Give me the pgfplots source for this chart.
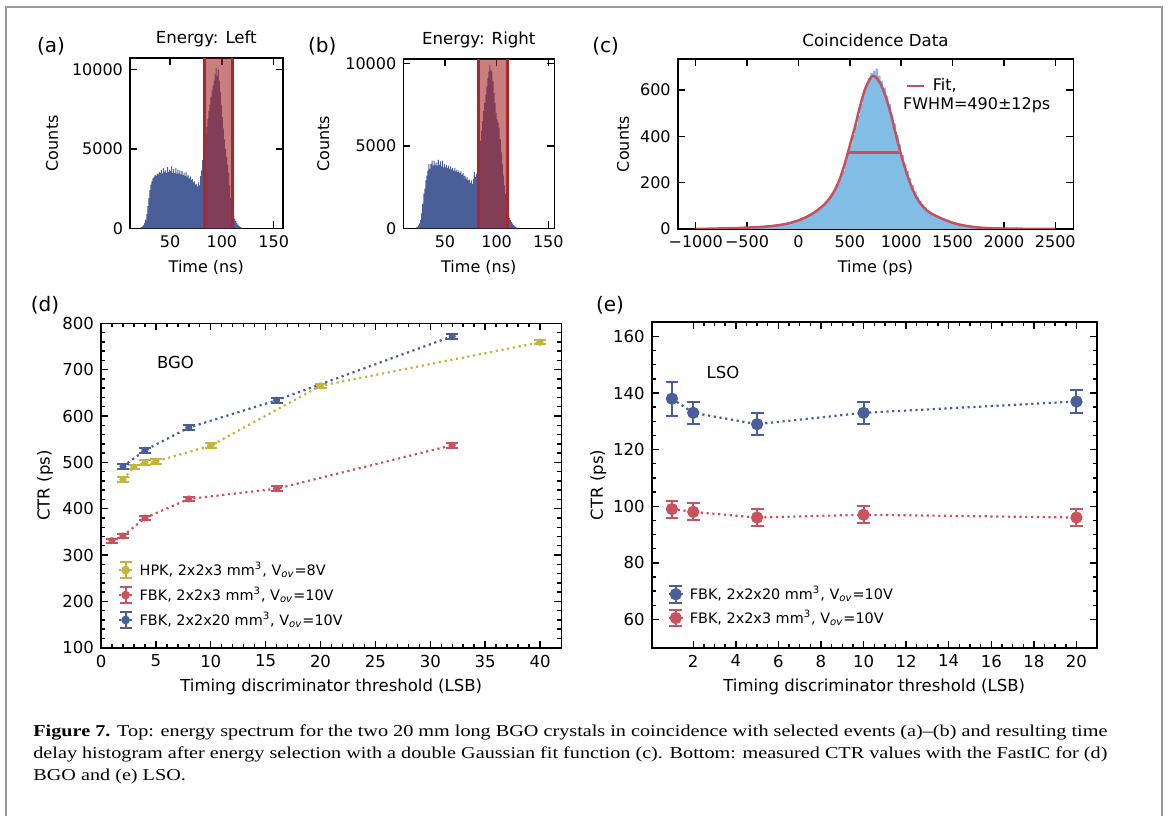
\documentclass[border=0pt]{standalone}
\usepackage{fontspec}
\setmainfont{DejaVu Sans}
\newfontfamily\capfont{Liberation Serif}
\usepackage{graphicx}
\usepackage{pgfplots}
\pgfplotsset{compat=1.18}
\definecolor{histblue}{HTML}{4A5F97}
\definecolor{bandred}{HTML}{A8282C}
\definecolor{lightb}{HTML}{82BDE6}
\definecolor{fitred}{HTML}{C8505E}
\definecolor{cblue}{HTML}{4A5F9A}
\definecolor{cred}{HTML}{C9525F}
\definecolor{colive}{HTML}{C2B43C}
\definecolor{framegray}{HTML}{9A9A9A}
\newsavebox\capA
\newsavebox\capB
\pgfplotsset{
  panel/.style={
    scale only axis,
    axis line style={line width=0.8pt},
    every tick/.style={black, line width=0.7pt},
    major tick length=3.5pt,
    minor tick length=2pt,
    tick align=inside,
    scaled ticks=false,
    /pgf/number format/assume math mode=true,
    /pgf/number format/1000 sep={},
  },
  toppanel/.style={panel,
    tick label style={font=\fontsize{8}{9.5}\selectfont},
    label style={font=\fontsize{8}{9.5}\selectfont},
    title style={font=\fontsize{8.3}{10}\selectfont, at={(0.5,1)}, anchor=center, yshift=3.5pt},
    xlabel style={at={(axis description cs:0.5,0)}, anchor=center, yshift=-19.75pt},
  },
  botpanel/.style={panel,
    tick label style={font=\fontsize{8.25}{9.5}\selectfont},
    label style={font=\fontsize{8.25}{9.5}\selectfont},
    xlabel style={at={(axis description cs:0.5,0)}, anchor=center, yshift=-19.5pt},
  },
  dotline/.style={dash pattern=on 1.1pt off 1.8pt, line width=1.1pt},
  errd/.style={dotline, mark=*, mark size=1.2pt, mark options={solid},
    error bars/.cd, y dir=both, y explicit, error bar style={solid, line width=1pt},
    error mark options={solid, rotate=90, line width=1pt, mark size=3pt}, /pgfplots/.cd},
  erre/.style={dotline, mark=*, mark size=2.5pt, mark options={solid},
    error bars/.cd, y dir=both, y explicit, error bar style={solid, line width=1pt},
    error mark options={solid, rotate=90, line width=1pt, mark size=3.2pt}, /pgfplots/.cd},
  legd/.style={legend image code/.code={
    \draw[dash pattern=on 1.1pt off 1.8pt, line width=1.1pt] (0pt,0pt) -- (7pt,0pt);
    \draw[solid, line width=1pt] (3.5pt,-4pt) -- (3.5pt,4pt) (0.5pt,-4pt) -- (6.5pt,-4pt) (0.5pt,4pt) -- (6.5pt,4pt);
    \fill[solid] (3.5pt,0pt) circle (1.6pt);}},
  lege/.style={legend image code/.code={
    \draw[dash pattern=on 1.1pt off 1.8pt, line width=1.1pt] (0pt,0pt) -- (7pt,0pt);
    \draw[solid, line width=1pt] (3.5pt,-4.2pt) -- (3.5pt,4.2pt) (0.3pt,-4.2pt) -- (6.7pt,-4.2pt) (0.3pt,4.2pt) -- (6.7pt,4.2pt);
    \fill[solid] (3.5pt,0pt) circle (2.5pt);}},
}
\begin{document}%
\sbox\capA{\capfont\fontsize{8.3}{11}\selectfont\textbf{Figure 7.} Top: energy spectrum for the two 20 mm long BGO crystals in coincidence with selected events (a)–(b) and resulting time}%
\sbox\capB{\capfont\fontsize{8.3}{11}\selectfont delay histogram after energy selection with a double Gaussian fit function (c). Bottom: measured CTR values with the FastIC for (d)}%
\pgfmathsetmacro\xsA{537/(\wd\capA/1pt)}%
\pgfmathsetmacro\xsB{537/(\wd\capB/1pt)}%
\pgfmathsetmacro\xsC{(\xsA+\xsB)/2}%
\begin{tikzpicture}
\path[use as bounding box] (0,0) rectangle (584pt,408pt);
\draw[framegray, line width=1pt] (3pt,0) -- (3pt,404.6pt) -- (581.2pt,404.6pt) -- (581.2pt,0);

% ---------- (a)
\begin{axis}[toppanel, at={(65pt,293.85pt)}, anchor=south west,
  width=76.35pt, height=85pt,
  xmin=11.3, xmax=158.7, ymin=0, ymax=10715,
  xtick={50,100,150}, ytick={0,5000,10000},
  title={Energy: Left}, xlabel={Time (ns)}, ylabel={Counts},
  ylabel style={at={(axis description cs:-0.511,0.5)}, anchor=center}]
\addplot[const plot mark left, fill=histblue, draw=none] table {
20 0
21 40
22 80
23 120
24 200
25 320
26 550
27 900
28 1400
29 1900
30 2400
31 2750
32 2950
33 3150
34 3250
35 3350
36 3300
37 3450
38 3400
39 3550
40 3500
41 3700
42 3450
43 3800
44 3550
45 3650
46 3500
47 3850
48 3550
49 3700
50 3600
51 3900
52 3500
53 3750
54 3500
55 3800
56 3450
57 3700
58 3450
59 3650
60 3400
61 3600
62 3350
63 3500
64 3300
65 3550
66 3250
67 3350
68 3150
69 3250
70 3050
71 3100
72 2900
73 2950
74 2750
75 2800
76 2650
77 2900
78 2700
79 3300
80 3650
81 4300
82 4800
83 5300
84 5900
85 6400
86 6900
87 7400
88 7800
89 8300
90 8700
91 9000
92 9300
93 9700
94 10100
95 9600
96 10000
97 9300
98 8600
99 7800
100 7000
101 6300
102 5600
103 5000
104 4500
105 4000
106 3500
107 2700
108 1900
109 1400
110 1050
111 800
112 600
113 450
114 330
115 230
116 160
117 100
118 60
119 30
120 10
121 0
} \closedcycle;
\addplot[fill=bandred, fill opacity=0.6, draw=none] coordinates {(83,0) (83,10715) (110,10715) (110,0)} \closedcycle;
\addplot[bandred, line width=1.5pt] coordinates {(83,0) (83,10715)};
\addplot[bandred, line width=1.5pt] coordinates {(110,0) (110,10715)};
\end{axis}

% ---------- (b)
\begin{axis}[toppanel, at={(201.65pt,293.85pt)}, anchor=south west,
  width=75.5pt, height=84.5pt,
  xmin=9.7, xmax=155.8, ymin=0, ymax=10243,
  xtick={50,100,150}, ytick={0,5000,10000},
  title={Energy: Right}, xlabel={Time (ns)}, ylabel={Counts},
  ylabel style={at={(axis description cs:-0.530,0.5)}, anchor=center}]
\addplot[const plot mark left, fill=histblue, draw=none] table {
20 0
21 30
22 60
23 100
24 180
25 300
26 500
27 900
28 1500
29 2100
30 2400
31 2900
32 3200
33 3500
34 3900
35 3600
36 3900
37 4100
38 3800
39 4100
40 3850
41 4000
42 3800
43 4150
44 3850
45 4050
46 3750
47 4100
48 3700
49 3900
50 3700
51 3850
52 3650
53 3800
54 3600
55 3750
56 3550
57 3650
58 3500
59 3650
60 3450
61 3550
62 3400
63 3500
64 3350
65 3450
66 3250
67 3350
68 3150
69 3200
70 3000
71 3100
72 2900
73 2950
74 2750
75 2900
76 2700
77 3000
78 3400
79 3100
80 3300
81 3700
82 4200
83 4700
84 5300
85 5900
86 6500
87 7100
88 7600
89 8100
90 8600
91 9100
92 9500
93 9900
94 9600
95 9500
96 8900
97 8200
98 7600
99 7000
100 6600
101 6400
102 6100
103 5400
104 4600
105 3900
106 3200
107 2600
108 2100
109 1600
110 1200
111 900
112 650
113 500
114 380
115 280
116 200
117 130
118 80
119 40
120 15
121 0
} \closedcycle;
\addplot[fill=bandred, fill opacity=0.6, draw=none] coordinates {(82.2,0) (82.2,10243) (110.6,10243) (110.6,0)} \closedcycle;
\addplot[bandred, line width=1.5pt] coordinates {(82.2,0) (82.2,10243)};
\addplot[bandred, line width=1.5pt] coordinates {(110.6,0) (110.6,10243)};
\end{axis}

% ---------- (c)
\begin{axis}[toppanel, at={(338.85pt,293.5pt)}, anchor=south west,
  width=197.8pt, height=84.85pt,
  xmin=-1175, xmax=2675, ymin=0, ymax=732,
  xtick={-1000,-500,0,500,1000,1500,2000,2500},
  xticklabels={−1000,−500,0,500,1000,1500,2000,2500},
  ytick={0,200,400,600},
  title={Coincidence Data}, xlabel={Time (ps)}, ylabel={Counts},
  ylabel style={at={(axis description cs:-0.138,0.5)}, anchor=center},
  legend style={draw=none, fill=none, at={(0.5746,0.844)}, anchor=west, inner sep=0pt,
    nodes={inner sep=0pt}, column sep=4pt, font=\fontsize{8}{9.5}\selectfont}]
\addplot[const plot mark left, fill=lightb, draw=none, forget plot] table {
-1000 1
-975 0
-950 2
-925 1
-900 1
-875 2
-850 1
-825 3
-800 2
-775 2
-750 3
-725 2
-700 4
-675 3
-650 5
-625 3
-600 6
-575 4
-550 7
-525 5
-500 9
-475 6
-450 8
-425 7
-400 10
-375 9
-350 11
-325 10
-300 13
-275 12
-250 15
-225 16
-200 18
-175 20
-150 22
-125 24
-100 27
-75 30
-50 33
-25 36
0 40
25 44
50 48
75 52
100 58
125 64
150 72
175 80
200 88
225 98
250 110
275 122
300 138
325 152
350 172
375 195
400 222
425 250
450 290
475 325
500 365
525 405
550 448
575 490
600 540
625 580
650 620
675 650
700 672
725 682
750 692
775 662
800 640
825 610
850 575
875 540
900 495
925 455
950 405
975 365
1000 320
1025 282
1050 250
1075 218
1100 190
1125 162
1150 140
1175 120
1200 105
1225 92
1250 80
1275 70
1300 62
1325 56
1350 52
1375 44
1400 40
1425 35
1450 31
1475 28
1500 24
1525 21
1550 18
1575 16
1600 14
1625 12
1650 10
1675 9
1700 8
1725 7
1750 6
1775 5
1800 5
1825 4
1850 3
1875 4
1900 3
1925 2
1950 3
1975 2
2000 2
2025 1
2050 2
2075 1
2100 1
2125 1
2150 2
2175 1
2200 1
2225 0
2250 1
2275 1
2300 0
2325 1
2350 0
2375 1
2400 0
2425 1
2450 0
2475 0
2500 0
} \closedcycle;
\addplot[fitred, line width=1.25pt, smooth,
  legend image code/.code={\draw[line width=1.25pt] (0pt,0pt) -- (8.5pt,0pt);}] coordinates {
(-1000,1)(-900,1)(-800,2)(-700,3)(-600,4)(-500,6)(-400,8)(-300,11)(-200,16)(-100,24)
(0,37)(50,46)(100,57)(150,70)(200,86)(250,105)(300,130)(350,165)(400,213)(450,280)
(500,360)(550,440)(600,530)(650,605)(700,650)(725,660)(750,657)(800,625)(850,570)
(900,495)(950,405)(1000,318)(1050,245)(1100,182)(1150,135)(1200,103)(1250,80)(1300,65)
(1350,54)(1400,44)(1450,35)(1500,27)(1550,21)(1600,16)(1700,9)(1800,5)(1900,3)(2000,2)
(2200,1)(2500,0.5)};
\addlegendentry{Fit,}
\addplot[fitred, line width=1.25pt, forget plot] coordinates {(485,330) (990,330)};
\node[anchor=west, font=\fontsize{8}{9.5}\selectfont, inner sep=0pt] at (rel axis cs:0.569,0.731) {FWHM=490±12ps};
\end{axis}

% ---------- (d)
\begin{axis}[botpanel, at={(50.5pt,84.15pt)}, anchor=south west,
  width=230.2pt, height=162.2pt,
  xmin=0, xmax=41.95, ymin=100, ymax=800,
  xtick={0,5,...,40}, minor x tick num=4,
  ytick={100,200,...,800}, minor y tick num=4,
  xlabel={Timing discriminator threshold (LSB)}, ylabel={CTR (ps)},
  ylabel style={at={(axis description cs:-0.1216,0.5)}, anchor=center},
  legend cell align=left,
  legend style={draw=none, fill=none, at={(0.035,0.275)}, anchor=north west, inner sep=0pt,
    nodes={inner sep=1.5pt}, column sep=1.5pt, row sep=1.2pt, font=\fontsize{7.2}{8}\selectfont}]
\addplot[colive, legd, errd]
  coordinates {(2,463) +- (0,5) (3,490) +- (0,5) (4,499) +- (0,5) (5,502) +- (0,5)
  (10,536) +- (0,5) (20,665) +- (0,5) (40,759) +- (0,4)};
\addlegendentry{HPK, 2x2x3 mm\textsuperscript{3}, V\textsubscript{\textit{ov}}=8V}
\addplot[cred, legd, errd]
  coordinates {(1,331) +- (0,4) (2,341) +- (0,5) (4,380) +- (0,5) (8,421) +- (0,4)
  (16,443) +- (0,5) (32,537) +- (0,5)};
\addlegendentry{FBK, 2x2x3 mm\textsuperscript{3}, V\textsubscript{\textit{ov}}=10V}
\addplot[cblue, legd, errd]
  coordinates {(2,491) +- (0,5) (4,526) +- (0,5) (8,575) +- (0,5) (16,634) +- (0,5)
  (32,772) +- (0,5)};
\addlegendentry{FBK, 2x2x20 mm\textsuperscript{3}, V\textsubscript{\textit{ov}}=10V}
\node[anchor=west, font=\fontsize{8.25}{9.5}\selectfont, inner sep=0pt] at (axis cs:5.07,715) {BGO};
\end{axis}

% ---------- (e)
\begin{axis}[botpanel, at={(325.85pt,84.15pt)}, anchor=south west,
  width=222.5pt, height=162.7pt,
  xmin=0.05, xmax=20.95, ymin=50, ymax=165,
  xtick={2,4,...,20}, minor x tick num=3,
  ytick={60,80,...,160}, minor y tick num=3,
  xlabel={Timing discriminator threshold (LSB)}, ylabel={CTR (ps)},
  ylabel style={at={(axis description cs:-0.120,0.5)}, anchor=center},
  legend cell align=left,
  legend style={draw=none, fill=none, at={(0.035,0.2)}, anchor=north west, inner sep=0pt,
    nodes={inner sep=1.5pt}, column sep=1.5pt, row sep=0.6pt, font=\fontsize{7.2}{8}\selectfont}]
\addplot[cblue, lege, erre]
  coordinates {(1,138) +- (0,6) (2,133) +- (0,4) (5,129) +- (0,4) (10,133) +- (0,4) (20,137) +- (0,4)};
\addlegendentry{FBK, 2x2x20 mm\textsuperscript{3}, V\textsubscript{\textit{ov}}=10V}
\addplot[cred, lege, erre]
  coordinates {(1,99) +- (0,3) (2,98) +- (0,3) (5,96) +- (0,3) (10,97) +- (0,3) (20,96) +- (0,3)};
\addlegendentry{FBK, 2x2x3 mm\textsuperscript{3}, V\textsubscript{\textit{ov}}=10V}
\node[anchor=west, font=\fontsize{8.25}{9.5}\selectfont, inner sep=0pt] at (axis cs:2.61,147.2) {LSO};
\end{axis}

% ---------- panel letters
\node[font=\fontsize{10}{12}\selectfont] at (25.5pt,385pt) {(a)};
\node[font=\fontsize{10}{12}\selectfont] at (161.15pt,385pt) {(b)};
\node[font=\fontsize{10}{12}\selectfont] at (302.85pt,385pt) {(c)};
\node[font=\fontsize{10}{12}\selectfont] at (22.5pt,255.15pt) {(d)};
\node[font=\fontsize{10}{12}\selectfont] at (305pt,255.15pt) {(e)};

% ---------- caption
\begin{scope}[every node/.style={anchor=base west, inner sep=0pt, font=\capfont\fontsize{8.3}{11}\selectfont}]
\node at (16.5pt,39.65pt) {\scalebox{\xsA}[1]{\usebox\capA}};
\node at (16.5pt,28.65pt) {\scalebox{\xsB}[1]{\usebox\capB}};
\node at (16.5pt,17.75pt) {\scalebox{\xsC}[1]{BGO and (e) LSO.}};
\end{scope}
\end{tikzpicture}%
\end{document}
